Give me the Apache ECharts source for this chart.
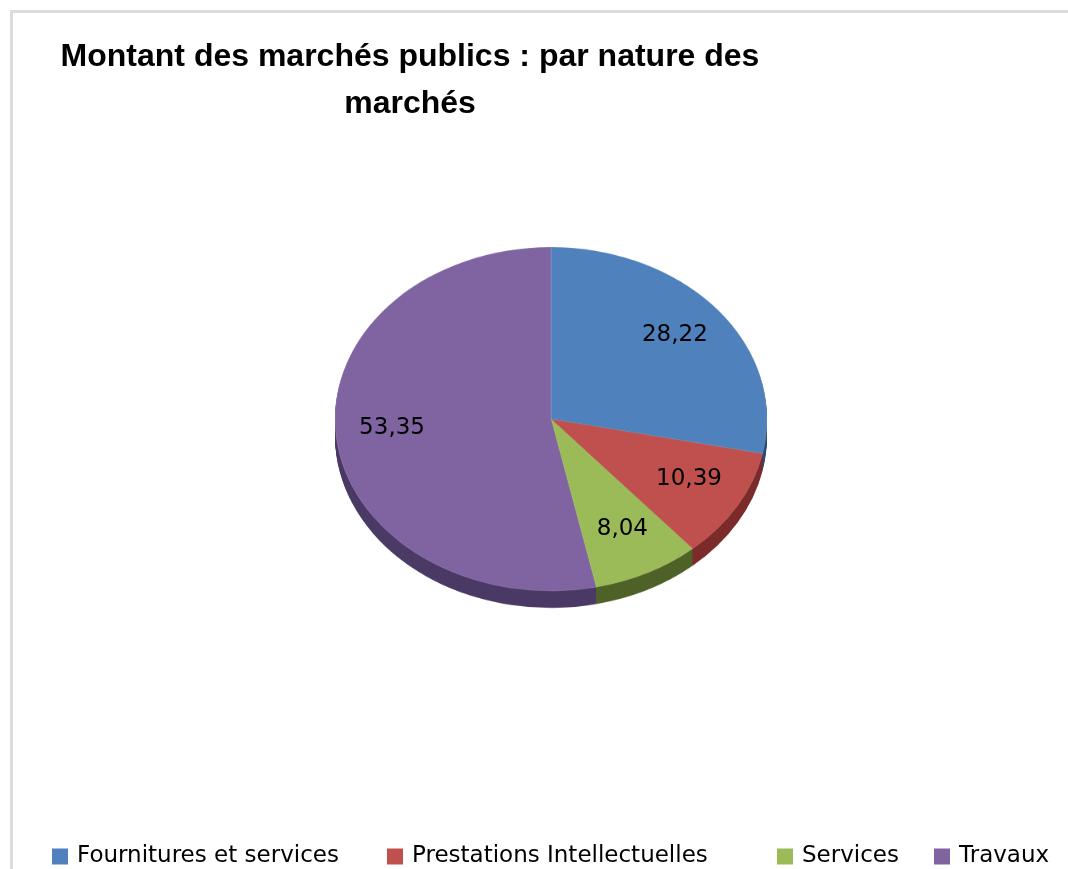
<!DOCTYPE html>
<html>
<head>
<meta charset="utf-8">
<script src="https://cdn.jsdelivr.net/npm/echarts@6/dist/echarts.min.js"></script>
<style>
html,body{margin:0;padding:0;background:#fff;}
#wrap{position:relative;width:1068px;height:869px;overflow:hidden;}
#pie{position:absolute;left:0;top:0;width:1068px;height:869px;transform-origin:0 419px;transform:scaleY(0.796);}
#main{position:absolute;left:0;top:0;width:1068px;height:869px;}
</style>
</head>
<body>
<div id="wrap"><div id="pie"></div><div id="main"></div></div>
<script>
const categories = ['Fournitures et services', 'Prestations Intellectuelles', 'Services', 'Travaux'];
const values = [28.22, 10.39, 8.04, 53.35];
const labels = ['28,22', '10,39', '8,04', '53,35'];
const topColors = ['#4f81bd', '#c0504d', '#9bbb59', '#8064a2'];
const sideColors = ['#2c4d75', '#7b2c2a', '#4f6228', '#4b3a66'];

const CX = 551, CY = 419, R = 216, SQ = 0.796, DEPTH = 17;

// Pie drawing (vertically squashed container -> ellipse)
const pieChart = echarts.init(document.getElementById('pie'), null, {renderer: 'canvas'});
const pieSeries = [];
for (let d = DEPTH; d >= 1; d--) {
  pieSeries.push({
    type: 'pie', silent: true, animation: false,
    center: [CX, CY + d / SQ], radius: R,
    label: {show: false}, labelLine: {show: false},
    itemStyle: {borderWidth: 0},
    data: categories.map((c, i) => ({name: c, value: values[i], itemStyle: {color: sideColors[i]}}))
  });
}
pieSeries.push({
  type: 'pie', silent: true, animation: false,
  center: [CX, CY], radius: R,
  label: {show: false}, labelLine: {show: false},
  itemStyle: {borderWidth: 0.5, borderColor: 'rgba(255,255,255,0.25)'},
  data: categories.map((c, i) => ({name: c, value: values[i], itemStyle: {color: topColors[i]}}))
});
pieChart.setOption({animation: false, series: pieSeries});

// Text layer: title, legend, labels
const chart = echarts.init(document.getElementById('main'), null, {renderer: 'canvas'});
const legendLefts = [52, 387, 777, 934];
const legends = categories.map((c, i) => ({
  left: legendLefts[i], top: 845, orient: 'horizontal', padding: 0,
  itemWidth: 16, itemHeight: 16, itemGap: 0,
  icon: 'rect', selectedMode: false,
  textStyle: {fontFamily: 'DejaVu Sans', fontSize: 23, color: '#000', padding: [3, 0, 0, 4]},
  data: [{name: c, itemStyle: {color: topColors[i]}}]
}));
chart.setOption({
  animation: false,
  graphic: [{
    type: 'rect', silent: true,
    shape: {x: 11.5, y: 11.5, width: 1200, height: 1000},
    style: {fill: 'none', stroke: '#dcdcdc', lineWidth: 3}
  }],
  title: {
    text: 'Montant des marchés publics : par nature des\nmarchés',
    left: 405, top: 29, textAlign: 'center',
    textStyle: {fontFamily: 'Liberation Sans', fontSize: 32, fontWeight: 'bold', color: '#000', lineHeight: 47}
  },
  legend: legends,
  series: [{
    type: 'pie', silent: true,
    center: [CX, CY], radius: R,
    itemStyle: {color: 'rgba(0,0,0,0)'},
    label: {
      show: true, position: 'inside', fontFamily: 'DejaVu Sans', fontSize: 23, color: '#000',
      formatter: p => labels[p.dataIndex]
    },
    labelLine: {show: false},
    labelLayout: function (p) {
      const r = p.labelRect;
      const lx = r.x + r.width / 2, ly = r.y + r.height / 2;
      const k = 0.72 / 0.5;
      return {x: CX + (lx - CX) * k, y: CY - 4 + (ly - CY) * k * SQ, align: 'center', verticalAlign: 'middle'};
    },
    data: categories.map((c, i) => ({name: c, value: values[i]}))
  }]
});
</script>
</body>
</html>
